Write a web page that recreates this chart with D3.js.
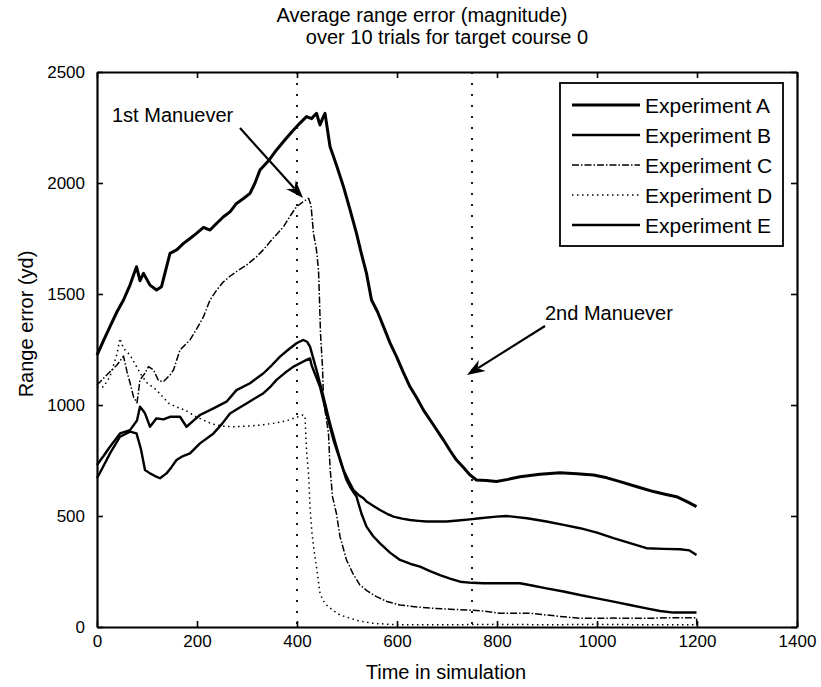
<!DOCTYPE html>
<html>
<head>
<meta charset="utf-8">
<script src="https://cdn.jsdelivr.net/npm/d3@7"></script>
<style>
  html, body { margin: 0; padding: 0; background: #fff; }
  svg text { font-family: "Liberation Sans", Arial, sans-serif; fill: #000; }
</style>
</head>
<body>
<svg id="chart" width="821" height="687"></svg>
<script>
// ---- data ----
const titleLines = ["Average range error (magnitude)", "over 10 trials for target course 0"];
const xLabel = "Time in simulation";
const yLabel = "Range error (yd)";
const xTicks = [0, 200, 400, 600, 800, 1000, 1200, 1400];
const yTicks = [0, 500, 1000, 1500, 2000, 2500];
const seriesNames = ["Experiment A", "Experiment B", "Experiment C", "Experiment D", "Experiment E"];
const maneuverTimes = [400, 750];

const expA = [[0,1225],[13,1290],[26,1353],[40,1420],[53,1473],[66,1540],[79,1623],[86,1560],[93,1593],[106,1540],[119,1518],[129,1533],[146,1683],[160,1700],[173,1728],[186,1750],[199,1773],[213,1800],[226,1788],[240,1820],[253,1848],[266,1870],[279,1908],[293,1930],[306,1953],[316,2000],[326,2059],[343,2100],[359,2149],[376,2195],[393,2239],[406,2270],[419,2299],[429,2290],[439,2314],[446,2261],[451,2290],[456,2314],[466,2164],[479,2080],[493,1983],[506,1880],[519,1773],[529,1680],[539,1593],[549,1473],[561,1420],[573,1353],[586,1280],[599,1218],[612,1150],[626,1082],[640,1030],[653,977],[673,910],[693,842],[706,795],[719,752],[733,718],[746,685],[759,662],[779,660],[799,655],[822,665],[846,677],[886,688],[926,695],[960,690],[993,685],[1020,672],[1046,655],[1080,632],[1113,610],[1136,598],[1159,587],[1180,565],[1199,542]];

const expB = [[0,730],[13,770],[26,812],[46,872],[66,887],[80,930],[86,992],[92,975],[96,962],[106,902],[119,940],[133,935],[146,947],[166,947],[179,902],[193,930],[206,955],[233,985],[259,1015],[279,1067],[306,1098],[333,1143],[350,1180],[366,1218],[383,1250],[399,1278],[412,1293],[420,1285],[426,1263],[439,1158],[453,1037],[466,917],[479,812],[493,707],[503,660],[513,617],[523,595],[533,580],[539,565],[553,545],[566,527],[580,510],[593,497],[610,488],[626,482],[643,478],[659,475],[679,476],[699,475],[722,480],[746,485],[766,490],[799,497],[819,500],[860,490],[899,475],[933,460],[966,445],[1000,425],[1033,400],[1066,378],[1099,355],[1133,352],[1166,350],[1185,345],[1199,324]];

const expC = [[0,1090],[13,1120],[26,1150],[40,1180],[53,1220],[60,1150],[66,1100],[73,1037],[80,1010],[86,1113],[95,1140],[103,1173],[113,1158],[123,1110],[133,1105],[146,1135],[153,1158],[166,1248],[186,1293],[200,1345],[213,1398],[226,1473],[240,1520],[253,1555],[266,1580],[279,1601],[299,1630],[319,1668],[333,1700],[346,1735],[360,1770],[373,1803],[386,1850],[399,1893],[412,1915],[423,1931],[428,1900],[433,1773],[439,1698],[443,1608],[445,1473],[447,1323],[451,1172],[453,1022],[463,872],[466,722],[471,587],[479,510],[486,407],[499,302],[512,240],[526,189],[542,160],[559,137],[580,115],[606,99],[640,90],[673,84],[706,80],[739,77],[773,72],[806,62],[866,62],[916,50],[966,39],[1033,40],[1099,39],[1150,42],[1199,42],[1200,0]];

const expD = [[0,1080],[13,1082],[26,1128],[40,1230],[46,1300],[53,1255],[66,1225],[79,1173],[90,1130],[100,1100],[119,1068],[143,1008],[160,990],[176,977],[200,945],[230,915],[250,905],[273,902],[300,905],[330,910],[360,920],[380,930],[400,945],[412,955],[416,950],[419,797],[423,692],[426,540],[430,422],[435,330],[439,272],[446,152],[452,120],[459,99],[472,75],[486,54],[520,30],[549,17],[600,10],[700,10],[800,12],[900,10],[1000,12],[1100,10],[1199,10]];

const expE = [[0,670],[13,725],[26,782],[46,857],[66,880],[79,872],[88,800],[96,707],[106,692],[116,680],[126,670],[139,692],[149,720],[159,752],[172,770],[186,782],[206,827],[233,872],[250,915],[266,962],[283,985],[299,1007],[316,1030],[333,1053],[346,1080],[359,1113],[376,1145],[393,1173],[406,1188],[419,1203],[426,1210],[429,1180],[446,1082],[459,962],[473,842],[486,752],[499,662],[509,620],[519,587],[529,510],[539,452],[552,410],[566,377],[586,335],[606,302],[626,285],[646,272],[666,252],[686,234],[706,218],[726,204],[750,199],[773,197],[810,197],[846,197],[870,187],[899,174],[933,160],[966,144],[1000,129],[1033,114],[1066,99],[1099,84],[1126,72],[1153,65],[1180,65],[1199,65]];

const allSeries = [expA, expB, expC, expD, expE];

// ---- drawing ----
const svg = d3.select("#chart");
const margin = {left: 97, right: 24, top: 72, bottom: 60};
const W = 821, H = 687;
const x = d3.scaleLinear().domain([0, 1400]).range([margin.left, W - margin.right]);
const y = d3.scaleLinear().domain([0, 2500]).range([H - margin.bottom, margin.top]);

const styles = [
  {w: 3.0, dash: null},
  {w: 2.4, dash: null},
  {w: 1.5, dash: "7,2,1.5,2"},
  {w: 1.5, dash: "1.5,3.5"},
  {w: 2.4, dash: null}
];

// maneuver dotted lines
svg.selectAll("line.man").data(maneuverTimes).join("line")
  .attr("class", "man")
  .attr("x1", d => x(d)).attr("x2", d => x(d))
  .attr("y1", y(2500)).attr("y2", y(0))
  .attr("stroke", "#000").attr("stroke-width", 1.8)
  .attr("stroke-dasharray", "2,9");

// series lines
const line = d3.line().x(d => x(d[0])).y(d => y(d[1]));
svg.selectAll("path.series").data(allSeries).join("path")
  .attr("class", "series")
  .attr("d", line)
  .attr("fill", "none")
  .attr("stroke", "#000")
  .attr("stroke-linejoin", "round")
  .attr("stroke-width", (d, i) => styles[i].w)
  .attr("stroke-dasharray", (d, i) => styles[i].dash);

// axes (matlab box with inward ticks)
const tickLen = 6;
const fmt = d3.format("d");
const gB = svg.append("g").attr("transform", `translate(0,${y(0)})`)
  .call(d3.axisBottom(x).tickValues(xTicks).tickFormat(fmt).tickSizeInner(-tickLen).tickSizeOuter(0).tickPadding(8));
const gT = svg.append("g").attr("transform", `translate(0,${y(2500)})`)
  .call(d3.axisTop(x).tickValues(xTicks).tickSizeInner(-tickLen).tickSizeOuter(0).tickFormat(""));
const gL = svg.append("g").attr("transform", `translate(${x(0)},0)`)
  .call(d3.axisLeft(y).tickValues(yTicks).tickFormat(fmt).tickSizeInner(-tickLen).tickSizeOuter(0).tickPadding(12));
const gR = svg.append("g").attr("transform", `translate(${x(1400)},0)`)
  .call(d3.axisRight(y).tickValues(yTicks).tickSizeInner(-tickLen).tickSizeOuter(0).tickFormat(""));
[gB, gT, gL, gR].forEach(g => {
  g.select(".domain").attr("stroke", "#000").attr("stroke-width", 2.2);
  g.selectAll(".tick line").attr("stroke", "#000").attr("stroke-width", 1.6);
  g.selectAll("text").style("font-size", "17px").style("font-family", "'Liberation Sans', Arial, sans-serif").attr("fill", "#000");
});

// titles
svg.append("text").attr("x", 422).attr("y", 22).attr("text-anchor", "middle")
  .style("font-size", "20px").text(titleLines[0]);
svg.append("text").attr("x", 447).attr("y", 44).attr("text-anchor", "middle")
  .style("font-size", "20px").text(titleLines[1]);
svg.append("text").attr("x", 446).attr("y", 679).attr("text-anchor", "middle")
  .style("font-size", "20px").text(xLabel);
svg.append("text").attr("transform", "translate(33,324) rotate(-90)").attr("text-anchor", "middle")
  .style("font-size", "20px").text(yLabel);

// legend
const lg = svg.append("g");
lg.append("rect").attr("x", 560).attr("y", 83).attr("width", 223).attr("height", 163)
  .attr("fill", "#fff").attr("stroke", "#000").attr("stroke-width", 1.8);
const legY = d3.scalePoint().domain(seriesNames).range([105, 225]);
seriesNames.forEach((n, i) => {
  lg.append("line").attr("x1", 572).attr("x2", 640).attr("y1", legY(n)).attr("y2", legY(n))
    .attr("stroke", "#000").attr("stroke-width", styles[i].w).attr("stroke-dasharray", styles[i].dash);
  lg.append("text").attr("x", 645).attr("y", legY(n)).attr("dy", "0.36em")
    .style("font-size", "21px").text(n);
});

// annotations
function arrow(x1, y1, x2, y2) {
  const ang = Math.atan2(y2 - y1, x2 - x1);
  const L = 18, Wd = 6.5;
  const bx = x2 - L * Math.cos(ang), by = y2 - L * Math.sin(ang);
  svg.append("line").attr("x1", x1).attr("y1", y1).attr("x2", bx + 5*Math.cos(ang)).attr("y2", by + 5*Math.sin(ang))
    .attr("stroke", "#000").attr("stroke-width", 2.2);
  const px = -Math.sin(ang) * Wd, py = Math.cos(ang) * Wd;
  svg.append("path")
    .attr("d", `M${x2},${y2}L${bx + px},${by + py}L${bx + 0.3*L*Math.cos(ang)},${by + 0.3*L*Math.sin(ang)}L${bx - px},${by - py}Z`)
    .attr("fill", "#000");
}
svg.append("text").attr("x", 112).attr("y", 122).style("font-size", "20px").text("1st Manuever");
arrow(240, 128, 303, 198);
svg.append("text").attr("x", 545).attr("y", 320).style("font-size", "20px").text("2nd Manuever");
arrow(545, 326, 467, 375);
</script>
</body>
</html>
